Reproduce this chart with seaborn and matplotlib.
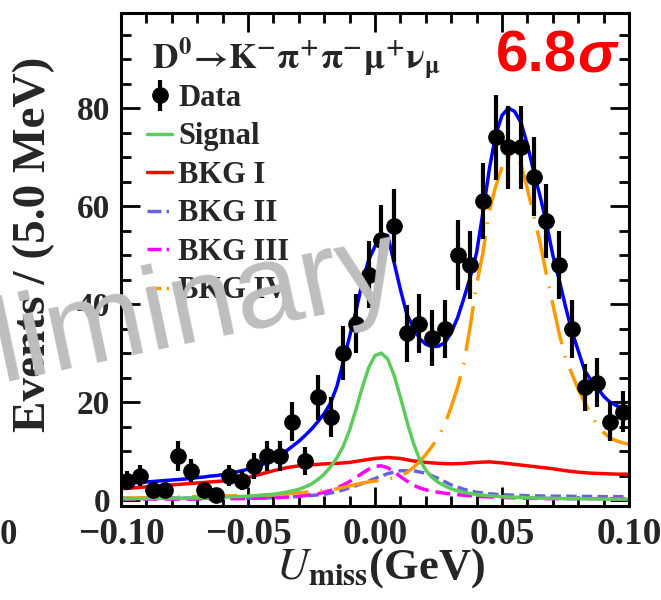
import numpy as np
import pandas as pd
import seaborn as sns
import matplotlib.pyplot as plt
from matplotlib.lines import Line2D
from matplotlib.ticker import MultipleLocator

sns.set_theme(style="ticks")
plt.rcParams['font.family'] = ['Liberation Serif', 'DejaVu Serif']
plt.rcParams['mathtext.fontset'] = 'stix'

# data histogram (bin centres in MeV, 5 MeV bins)
bin_centres = [-97.5, -92.5, -87.5, -82.5, -77.5, -72.5, -67.5, -62.5, -57.5, -52.5,
               -47.5, -42.5, -37.5, -32.5, -27.5, -22.5, -17.5, -12.5, -7.5, -2.5,
               2.5, 7.5, 12.5, 17.5, 22.5, 27.5, 32.5, 37.5, 42.5, 47.5,
               52.5, 57.5, 62.5, 67.5, 72.5, 77.5, 82.5, 87.5, 92.5, 97.5]
counts = [4, 5, 2, 2, 9, 6, 2, 1, 5, 4,
          7, 9, 9, 16, 8, 21, 17, 30, 36, 46,
          53, 56, 34, 36, 33, 35, 50, 48, 61, 74,
          72, 72, 66, 57, 48, 35, 23, 24, 16, 18]
count_err = [2.0, 2.2, 1.4, 1.4, 3.0, 2.4, 1.4, 1.0, 2.2, 2.0,
             2.6, 3.0, 3.0, 4.0, 2.8, 4.6, 4.1, 5.5, 6.0, 6.8,
             7.3, 7.5, 5.8, 6.0, 5.7, 5.9, 7.1, 6.9, 7.8, 8.6,
             8.5, 8.5, 8.1, 7.5, 6.9, 5.9, 4.8, 4.9, 4.0, 4.2]

# fit curves, sampled every 2.5 MeV
u_fine = [-100, -97.5, -95, -92.5, -90, -87.5, -85, -82.5, -80, -77.5,
          -75, -72.5, -70, -67.5, -65, -62.5, -60, -57.5, -55, -52.5,
          -50, -47.5, -45, -42.5, -40, -37.5, -35, -32.5, -30, -27.5,
          -25, -22.5, -20, -17.5, -15, -12.5, -10, -7.5, -5, -2.5,
          0,
          2.5, 5, 7.5, 10, 12.5, 15, 17.5, 20, 22.5, 25,
          27.5, 30, 32.5, 35, 37.5, 40, 42.5, 45, 47.5, 50,
          52.5, 55, 57.5, 60, 62.5, 65, 67.5, 70, 72.5, 75,
          77.5, 80, 82.5, 85, 87.5, 90, 92.5, 95, 97.5, 100]
total_fit = [3.4, 3.5, 3.5, 3.6, 3.7, 3.8, 3.9, 4.0, 4.1, 4.2,
             4.3, 4.4, 4.6, 4.7, 4.9, 5.0, 5.2, 5.4, 5.7, 6.0,
             6.3, 6.7, 7.1, 7.7, 8.3, 9.1, 10.0, 11.0, 12.0, 13.2,
             14.5, 16.0, 17.7, 19.8, 23.2, 28.2, 33.4, 38.6, 44.5, 49.0,
             51.8,
             54.1, 54.0, 48.5, 43.0, 38.0, 35.3, 33.0, 31.8, 31.3, 31.4,
             32.1, 34.2, 37.2, 41.2, 45.5, 50.5, 58.7, 67.5, 74.5, 78.5,
             80.0, 79.3, 77.0, 72.5, 67.0, 62.0, 56.5, 50.0, 45.0, 39.5,
             34.5, 30.5, 26.5, 24.5, 23.0, 21.2, 20.0, 19.3, 18.8, 18.5]
signal = [0.3, 0.3, 0.3, 0.3, 0.3, 0.35, 0.35, 0.35, 0.4, 0.4,
          0.4, 0.45, 0.45, 0.5, 0.5, 0.55, 0.6, 0.65, 0.7, 0.75,
          0.8, 0.9, 1.0, 1.1, 1.2, 1.4, 1.6, 1.9, 2.2, 2.7,
          3.3, 4.2, 5.3, 6.8, 8.6, 11.0, 14.3, 18.5, 23.0, 27.0,
          29.5,
          30.0, 28.8, 25.5, 21.0, 16.2, 11.8, 8.4, 6.1, 4.6, 3.6,
          2.9, 2.3, 1.9, 1.6, 1.35, 1.15, 1.0, 0.9, 0.8, 0.7,
          0.65, 0.6, 0.55, 0.5, 0.45, 0.4, 0.4, 0.35, 0.35, 0.3,
          0.3, 0.3, 0.25, 0.25, 0.25, 0.2, 0.2, 0.2, 0.2, 0.2]
bkg3 = [0.2, 0.2, 0.2, 0.2, 0.2, 0.2, 0.2, 0.2, 0.2, 0.2,
        0.2, 0.2, 0.2, 0.25, 0.25, 0.25, 0.25, 0.3, 0.3, 0.3,
        0.35, 0.35, 0.4, 0.45, 0.5, 0.55, 0.6, 0.7, 0.8, 0.95,
        1.1, 1.3, 1.6, 2.0, 2.5, 3.1, 3.8, 4.6, 5.5, 6.3,
        6.9,
        7.0, 6.6, 5.8, 4.8, 3.9, 3.1, 2.5, 2.1, 1.8, 1.6,
        1.4, 1.25, 1.1, 1.0, 0.9, 0.8, 0.7, 0.65, 0.6, 0.55,
        0.5, 0.45, 0.4, 0.4, 0.35, 0.35, 0.3, 0.3, 0.3, 0.3,
        0.3, 0.3, 0.3, 0.3, 0.3, 0.3, 0.3, 0.3, 0.3, 0.3]
bkg4 = [0.4, 0.4, 0.45, 0.45, 0.5, 0.5, 0.55, 0.55, 0.6, 0.6,
        0.65, 0.7, 0.7, 0.75, 0.8, 0.8, 0.85, 0.85, 0.9, 0.9,
        0.95, 0.95, 1.0, 1.05, 1.1, 1.2, 1.3, 1.4, 1.5, 1.6,
        1.7, 1.8, 1.95, 2.1, 2.3, 2.6, 2.9, 3.2, 3.5, 3.7,
        3.9,
        4.1, 4.3, 4.6, 5.0, 5.6, 6.6, 7.8, 9.3, 11.0, 12.9,
        15.5, 19.0, 23.0, 28.0, 35.5, 44.0, 50.5, 59.0, 64.0, 68.0,
        70.0, 70.3, 68.5, 63.5, 58.0, 52.5, 46.0, 40.0, 34.0, 29.0,
        25.8, 22.6, 20.0, 17.5, 15.3, 13.8, 12.7, 12.1, 11.7, 11.4]

# broad backgrounds, sampled every 5 MeV
u_coarse = [-100, -95, -90, -85, -80, -75, -70, -65, -60, -55,
            -50, -45, -40, -35, -30, -25, -20, -15, -10, -5,
            0,
            5, 10, 15, 20, 25, 30, 35, 40, 45, 50,
            55, 60, 65, 70, 75, 80, 85, 90, 95, 100]
bkg1 = [2.3, 2.5, 2.7, 2.9, 3.1, 3.3, 3.5, 3.7, 3.9, 4.2,
        4.6, 5.3, 6.0, 6.6, 7.0, 7.2, 7.4, 7.5, 7.7, 8.1,
        8.5,
        8.7, 8.5, 8.0, 7.7, 7.5, 7.4, 7.5, 7.7, 7.8, 7.6,
        7.3, 7.0, 6.7, 6.4, 6.0, 5.7, 5.5, 5.4, 5.3, 5.3]
bkg2 = [0.4, 0.4, 0.4, 0.4, 0.4, 0.4, 0.4, 0.4, 0.4, 0.4,
        0.4, 0.45, 0.5, 0.6, 0.75, 0.95, 1.2, 1.7, 2.5, 3.4,
        4.4,
        5.4, 6.0, 6.0, 5.5, 4.4, 3.1, 2.2, 1.6, 1.3, 1.1,
        1.0, 0.9, 0.85, 0.8, 0.8, 0.75, 0.75, 0.7, 0.7, 0.7]

x_ticks = [-0.10, -0.05, 0.0, 0.05, 0.10]
x_ticklabels = ['\u22120.10', '\u22120.05', '0.00', '0.05', '0.10']
y_ticks = [0, 20, 40, 60, 80]
labels = ['Data', 'Signal', 'BKG I', 'BKG II', 'BKG III', 'BKG IV']

fine = pd.DataFrame({'u': np.array(u_fine) / 1000, 'total': total_fit,
                     'signal': signal, 'bkg3': bkg3, 'bkg4': bkg4})
coarse = pd.DataFrame({'u': np.array(u_coarse) / 1000, 'bkg1': bkg1, 'bkg2': bkg2})

c_sig, c_b1, c_b2, c_b3, c_b4 = '#5ccd5c', '#ff0000', '#6464dc', '#ff00ff', '#ff9900'

fig = plt.figure(figsize=(6.61, 6.0), dpi=100)
ax = fig.add_axes([121 / 661, 94 / 600, 508 / 661, 493 / 600])


def draw(df, col, color, dashes=None):
    sns.lineplot(data=df, x='u', y=col, color=color, linewidth=2.5,
                 errorbar=None, legend=False, ax=ax)
    if dashes:
        ax.lines[-1].set_dashes(dashes)


draw(fine, 'total', '#0000ff')
draw(coarse, 'bkg1', c_b1)
draw(coarse, 'bkg2', c_b2, (3, 1.5))
draw(fine, 'bkg3', c_b3, (4.3, 2))
draw(fine, 'bkg4', c_b4, (13, 3.5, 0.5, 3.5))
draw(fine, 'signal', c_sig)

eb = ax.errorbar(np.array(bin_centres) / 1000, counts, yerr=count_err, fmt='o',
                 color='black', ms=11, elinewidth=3, capsize=0, zorder=5)

ax.set_xlim(-0.1, 0.1)
ax.set_ylim(-1.2, 99.4)
ax.set_xticks(x_ticks)
ax.set_xticklabels(x_ticklabels)
ax.set_yticks(y_ticks)
ax.xaxis.set_minor_locator(MultipleLocator(0.01))
ax.yaxis.set_minor_locator(MultipleLocator(5))
ax.tick_params(which='both', direction='in', top=True, right=True, width=2, color='black')
ax.tick_params(which='major', length=14)
ax.tick_params(which='minor', length=7)
ax.tick_params(axis='x', labelsize=27, pad=8)
ax.tick_params(axis='y', labelsize=24, pad=8)
for lbl in ax.get_xticklabels() + ax.get_yticklabels():
    lbl.set_fontweight('bold')
for s in ax.spines.values():
    s.set_linewidth(2.2)
    s.set_color('black')

ax.set_ylabel('Events / (5.0 MeV)', fontsize=34, fontweight='bold')
ax.yaxis.set_label_coords(-0.13, 0.53)
ax.set_xlabel(r'$\mathit{U}_{\mathbf{miss}}$(GeV)', fontsize=32, fontweight='bold')
ax.xaxis.set_label_coords(0.51, -0.082)

handles = [eb,
           Line2D([], [], color=c_sig, lw=2.5),
           Line2D([], [], color=c_b1, lw=2.5),
           Line2D([], [], color=c_b2, lw=2.5, dashes=(4, 1.5, 0.7, 1.5)),
           Line2D([], [], color=c_b3, lw=2.5, dashes=(4, 1.5, 0.7, 1.5)),
           Line2D([], [], color=c_b4, lw=2.5, dashes=(4, 1.5, 0.7, 1.5))]
fig.legend(handles, labels, loc='upper left', bbox_to_anchor=(147 / 661, 1 - 84 / 600),
           frameon=False, prop=dict(family='Liberation Serif', weight='bold', size=22),
           handlelength=0.83, handletextpad=0.2, labelspacing=0.31,
           borderpad=0, borderaxespad=0)

fig.text(152 / 661, 1 - 69 / 600,
         r'$\mathbf{D^{0}\!\rightarrow\! K^{-}\pi^{+}\pi^{-}\mu^{+}\nu_{\mu}}$',
         fontsize=25.5, ha='left', va='baseline', math_fontfamily='stix')

t68 = fig.text(496 / 661, 1 - 72 / 600, '6.8', color='#ff0000', fontsize=42,
               fontweight='bold', family='Liberation Sans', ha='left', va='baseline')
ax.annotate('\u03c3', xy=(1, 0), xycoords=t68, color='#ff0000', fontsize=42,
            fontweight='bold', fontstyle='italic', family='Liberation Sans',
            ha='left', va='bottom', annotation_clip=False)

fig.text(-0.272, 0.30, 'Preliminary', rotation=12, rotation_mode='anchor',
         ha='left', va='baseline', fontsize=86, color='#bebebe',
         family='Liberation Sans', zorder=10)

fig.text(0.0, 1 - 535 / 600, '0', fontsize=25, fontweight='bold', ha='left', va='center')

fig.savefig('out.png', dpi=100)
